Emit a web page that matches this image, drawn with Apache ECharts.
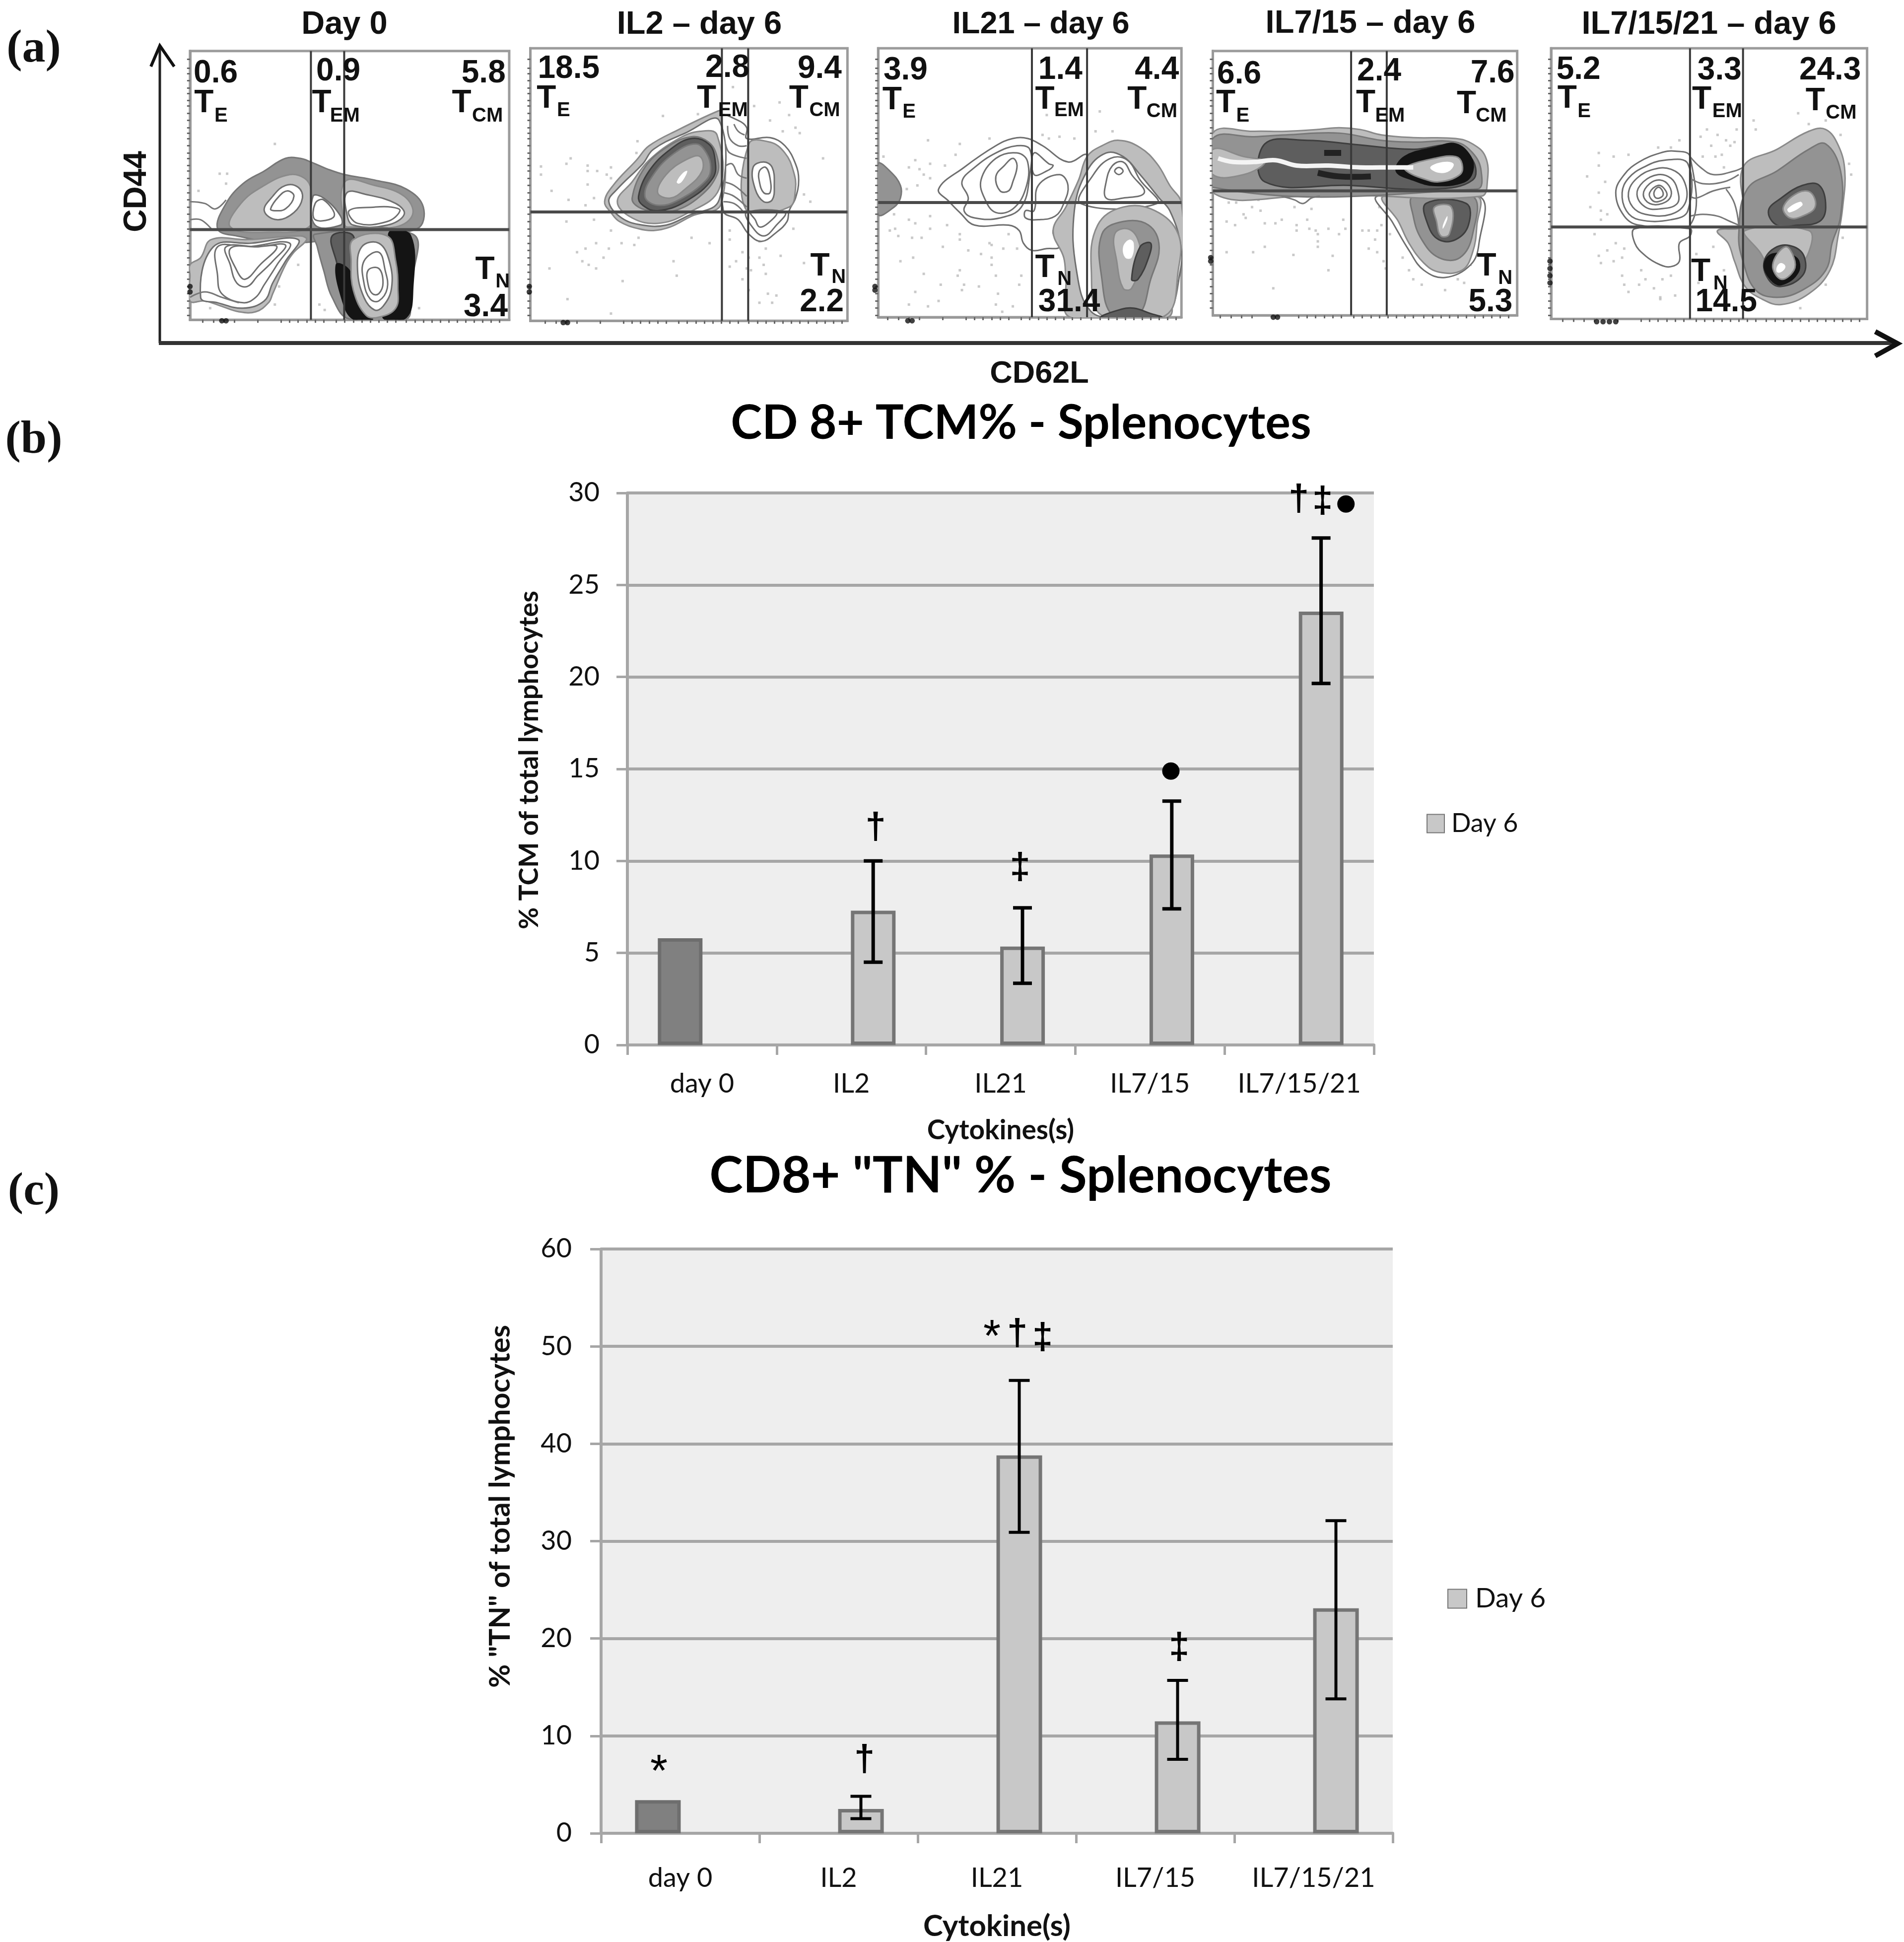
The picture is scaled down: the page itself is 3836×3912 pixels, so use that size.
<!DOCTYPE html>
<html>
<head>
<meta charset="utf-8">
<style>html,body{margin:0;padding:0;background:#fff}#c{width:3836px;height:3912px}</style>
<script src="https://cdn.jsdelivr.net/npm/echarts@6/dist/echarts.min.js"></script>
</head>
<body>
<div id="c"></div>
<script>
// ---- panels (b) and (c): values ----
const categoriesB = ['day 0','IL2','IL21','IL7/15','IL7/15/21'];
const categoriesC = ['day 0','IL2','IL21','IL7/15','IL7/15/21'];
const day0B = [5.8,null,null,null,null];
const day6B = [null,7.3,5.35,10.35,23.55];
const errLowB = [null,4.5,3.35,7.4,19.65];
const errHighB = [null,10.0,7.45,13.25,27.55];
const day0C = [3.4,null,null,null,null];
const day6C = [null,2.5,38.8,11.5,23.1];
const errLowC = [null,1.5,30.9,7.6,13.8];
const errHighC = [null,3.8,46.5,15.7,32.1];
const marksB = [[1,11.77,'†',49],[2,9.6,'‡',39],[3,14.9,'●',42],[4,29.6,'†',-1],[4,29.5,'‡',47],[4,29.4,'●',94]];
const marksC = [[0,6.83,'*',-43],[1,7.46,'†',52],[2,51.5,'*',-10],[2,51.2,'†',41],[2,50.8,'‡',92],[3,19.0,'‡',48]];

// ---- panel (a): gates, labels, contours and events ----
const plotTitles = ['Day 0','IL2 – day 6','IL21 – day 6','IL7/15 – day 6','IL7/15/21 – day 6'];
const gatesV = [[60,75.7],[92.3,104.7],[77,103],[70.7,87.5],[69,94]];
const gatesH = [102.5,92.7,87.5,81,101];
// text, kind (n number, t T, s subscript), x, y
const labels0 = [['0.6','n',4.7,16],['T','t',5,32.5],['E','s',14.5,39.5],['0.9','n',62.5,15],['T','t',60.5,32.5],['EM','s',69,39.5],['5.8','n',131,16],['T','t',126.5,32.5],['CM','s',136,39.5],['T','t',137.5,125],['N','s',147,131.5],['3.4','n',132,145.5]];
const labels1 = [['18.5','n',5.5,13.5],['T','t',5,30],['E','s',14.5,36.5],['2.8','n',84.5,13],['T','t',80.5,30],['EM','s',90.5,36.5],['9.4','n',128,13.5],['T','t',124,30],['CM','s',133.5,36.5],['T','t',134,123],['N','s',144,129],['2.2','n',129,143]];
const labels2 = [['3.9','n',7,14.5],['T','t',6.5,31],['E','s',16,37.5],['1.4','n',80,14],['T','t',78.5,30.5],['EM','s',87.5,36.5],['4.4','n',125.5,14],['T','t',122,30.5],['CM','s',131,37],['T','t',78.5,124],['N','s',89,130],['31.4','n',80,143]];
const labels3 = [['6.6','n',7.5,16.5],['T','t',7,32.5],['E','s',16.5,39.5],['2.4','n',73.5,15],['T','t',73,32.5],['EM','s',82,39.5],['7.6','n',127,16],['T','t',120.5,33],['CM','s',129.5,39.5],['T','t',130,123],['N','s',140,129.5],['5.3','n',126,143]];
const labels4 = [['5.2','n',6,14],['T','t',6.5,30],['E','s',16,37],['3.3','n',72.5,14.5],['T','t',70,30.5],['EM','s',79.5,37],['24.3','n',120.5,14.5],['T','t',123.5,31.5],['CM','s',133,38],['T','t',69.5,126],['N','s',80,132.5],['14.5','n',71.5,143]];

// each contour: density level, then x,y pairs. Negative level = open contour line.
const contours0 = [
 [2,16,102,20,88,28,77,38,70,48,63,55,63,60,65,68,69,76,72,90,75,105,80,113,90,110,102,80,106,50,110,25,106],
 [1,22,101,27,88,38,78,50,72,57,74,60,80,60,100,40,104],
 [0,38,92,42,84,48,78,54,79,56,85,52,93,44,97],[0,41,91,45,84,49,81,52,84,48,91,43,92],
 [0,61,84,66,85,74,95,74,100,62,100],[0,62,88,66,86,71,95,62,97],
 [1,76,76,90,78,104,84,108,94,100,101,80,101,76,100],[0,77,82,86,83,100,88,104,94,96,100,80,100,77,94],[0,78,92,90,90,98,90,102,92,96,98,82,99],
 [-1,3,87,10,88,15,91,20,86],[-1,3,97,8,97,13,102],
 [1,3,122,8,118,13,108,30,108,55,106,58,108,52,115,48,122,42,138,40,143,34,148,26,148,18,145,10,142,3,142,3,128],
 [0,14,112,32,110,54,108,48,120,42,132,38,142,28,146,16,143,8,140],[0,16,112,30,112,50,110,44,122,38,133,34,140,28,143,18,138,16,128],[0,20,112,35,112,48,111,42,120,35,128,30,134,25,132,22,122],[0,22,113,35,112,44,112,36,122,29,130,25,125],
 [-1,3,140,10,137,18,140,26,143],
 [2,62,105,108,105,108,130,107,140,105,152,78,152,70,140,66,125,63,112],
 [3,70,106,80,106,79,125,82,145,76,135,72,120],
 [4,72,122,78,125,81,138,89,152,80,152,75,142],
 [4,97,104,107,106,108,135,105,151,94,151,100,135,100,118],
 [1,80,108,96,106,100,120,101,135,100,146,92,151,86,150,80,136,79,120],
 [0,84,112,92,110,97,120,98,135,94,145,90,147,85,140,82,125],[0,85,120,92,115,95,125,96,135,92,142,88,141,85,132],[0,87,125,92,124,94,132,92,138,89,138,87,133]
];
const contours1 = [
 [0,92,40,100,42,104,46,104,52,115,51.5,122,56,127,66,128.5,75,127,85,124,92,123,98,118,104,111,109,105,105,100,97,93,92],
 [1,105,55,115,54,122,60,126,70,127,80,124,90,104,92],
 [0,107,68,112,65,116,68,117,78,116,86,112,87,108,80],[0,110,70,113,68,115,74,115,82,112,82,110,76],
 [0,104,93,122,93,118,100,112,106,106,100],[0,106,93,118,93,114,99,110,101,108,97],
 [-1,95,45,96,52,100,56,104,56],[-1,98,44,100,48,103,50],[-1,94,55,96,60,104,63],[-1,93,68,97,66,100,72,104,74],[-1,93,76,98,78,104,84],[-1,93,82,98,84,104,90],[-1,93,87,98,88,102,92],
 [1,37,87,41,78,52,64,58,56,72,47,90,37,92,37,92,88,78,95,68,101,60,103,53,102,44,98,40,93],
 [0,39,87,43,80,55,66,60,58,75,49,91,42,91,86,76,95,66,100,55,100,45,96],
 [1,43,87,50,76,58,64,72,52,82,48,90,50,91,80,75,94,62,99,50,96],
 [2,50,85,56,68,66,57,78,51,86,54,90,62,90,72,82,84,70,92,60,92,53,90],
 [3,53,84,58,70,68,58,78,52,86,55,89,63,88,74,75,87,62,92,55,89],
 [2,56,84,60,72,70,60,80,55,85,60,87,68,85,75,72,86,62,89],
 [1,62,82,66,72,75,64,82,62,83,70,75,80,68,85],
 [5,71,76,74,71,76,70,74,75,72,77]
];
const contours2 = [
 [2,4.5,66,10,70,15,78,15,85,12,90,4.5,94],
 [0,33,80,45,68,60,56,68,52,75,52,82,56,94,65,103,61,103,75,95,90,87,103,90,112,84,113,77,114,73,110,71,103,66,100,50,100,43,93,38,87],
 [0,44,76,50,68,60,60,70,56,76,58,76,72,72,90,62,96,50,96,45,92,47,85],
 [0,53,75,60,63,70,60,75,65,74,80,68,91,60,93,55,86],
 [0,60,73,64,67,68,63,70,67,68,76,66,81,62,81],
 [0,78,60,85,66,87,67,84,70,78,72],[0,80,78,90,72,94,78,92,88,88,95,80,97,74,96,74,92,78,92],
 [1,87,103,93,90,99,75,103,62,110,56,118,53,128,57,136,66,142,78,147.5,88,147.5,125,143,135,141,151,95,151,93,130,92,118],
 [0,97,92,103,70,112,60,120,62,128,72,137,85,142,92,147,110,147,125,140,150,120,151,105,148,98,125],
 [0,100,88,106,72,114,63,122,64,128,75,136,88],
 [0,112,76,115,67,120,65,124,72,130,82,120,85,112,85],[0,116,70,118,68,120,70,118,72],
 [1,108,100,120,90,135,92,146,105,146,125,140,150,110,150,105,125],
 [2,110,105,120,98,132,100,137,112,133,130,127,150,115,150,110,130],
 [1,116,105,122,102,127,108,128,120,124,135,120,135,117,120],
 [3,128,112,133,110,132,118,127,130,124,130],
 [5,120,112,123,108,125,110,124,118,121,118],
 [3,110,151,118,147,125,146,133,149,138,151]
];
const contours3 = [
 [0,83,84,131,84,131,110,127,122,115,129,105,125,98,114,90,98],
 [1,86,84,130,84,130,100,128,115,123,125,112,126,105,121,98,110,93,98],
 [2,100,84,128,84,128,105,122,118,112,118,104,108,100,95],
 [3,106,88,125,88,126,100,120,108,112,108,107,100],
 [1,110,90,118,90,117,105,113,106,111,98],
 [5,114,100,116,95,116,97,114,102],
 [1,5.5,49,25,48,40,48,55,47,65,46,75,47,85,50,100,51.5,120,52,128,55,134,62,135,75,132,84,70,83.5,50,84,5.5,82],
 [2,5.5,52,25,51,40,50,65,49,85,53,100,54,120,54,128,60,132,70,130,80,5.5,79],
 [3,30,55,50,53,70,55,100,58,118,56,128,64,128,75,110,80,70,78,30,76],
 [1,5.5,58,20,62,30,65,20,72,5.5,72],
 [4,96,62,110,57,120,55,127,62,128,70,124,76,110,78,100,75,92,70],
 [1,96,68,110,63,120,62,123,66,122,72,112,76,104,74,98,71],
 [5,108,68,114,65,119,66,117,70,112,71],
 [-3,55,71,65,73,80,73],[-3,58,60,66,60],
 [-2,8,63,15,65,25,65,35,64,45,67,60,67,75,68,90,68,100,68],
 [-1,38,84,44,86,48,88,52,85,56,84]
];
const contours4 = [
 [0,34,82,38,72,45,65,55,60,62,59,69,62,69,100,45,100,38,95],[0,37,82,40,74,47,68,57,64,68,66,68,92,60,97,45,97,39,92],
 [0,40,82,44,74,52,69,60,69,66,75,67,87,60,94,48,94,42,90],[0,44,83,47,76,54,72,60,74,63,80,63,88,55,91,48,90],
 [0,47,83,50,77,55,75,59,78,60,84,56,88,50,88],[0,50,82,54,78,57,80,58,84,54,87,51,86],[0,52,82,54,79,56,81,56,84,53,85],
 [-1,69,62,74,68,80,72,90,70,94,68],[-1,69,74,75,77,85,76,92,72],[-1,69,84,72,85,80,81,88,79],[-1,69,95,75,94,82,95,88,98,92,100],[-1,86,80,90,88,92,100],
 [0,43,102,43,110,48,117,55,122,60,123,64,120,64,110,69,106,69,102],
 [1,94,68,110,58,125,48,133,47,139,56,142,70,141,90,139,105,135,125,125,138,112,144,103,141,95,134,90,120,87,110,82,103,94,100],
 [2,96,80,110,70,125,58,133,55,140,70,140,95,136,110,133,125,122,136,110,140,100,136,94,120,92,105],
 [3,106,92,112,85,122,78,130,78,133,90,130,98,120,100,110,100],
 [1,113,90,120,82,126,82,128,90,122,95,116,96],
 [5,115,91,121,87,122,89,116,93],
 [1,95,103,125,103,125,115,118,125,108,125,102,115],
 [3,104,120,110,112,118,112,123,118,122,128,112,134,106,130],
 [4,104,122,108,116,119,118,120,126,112,133,107,130],
 [1,108,122,114,112,118,118,118,125,112,130],
 [5,110,123,112,121,114,123,112,126,110,126]
];
const events0 = [[43,55],[17,71.5],[20.5,71.5],[20,77],[7,81],[54,122],[45,134],[43,144],[12.5,146],[64,144],[66.5,147],[111,146]];
const events1 = [[64.5,39.5],[97.5,23.5],[81,38.5],[52.5,53.5],[52,60],[21,63],[19,66],[7,67.5],[7,72],[29,67],[29,70],[33.5,70],[40,68],[38,72],[40,74],[29,77.5],[12,81],[20,86],[32,85],[28,89],[32,97],[19,98],[40,103],[53,107],[45,110],[51,111],[33,110],[39,113],[28,113],[24,115],[26.5,120],[29.5,122],[36.5,118],[33,124],[11,124],[78,107],[86.5,110],[69.5,120],[71,128],[45.5,131],[19.5,141],[40,149],[119.5,32],[107.5,34],[124,39],[115,42],[121,48],[127,46],[129,49],[140,63],[131,83],[134,87],[96,103],[96,108],[110,109],[113,113],[102,115],[105,118],[110,118],[99,120],[104,124],[112,122],[120,117],[131,121],[96,123],[106,125],[113,127],[102,130],[105,136],[114,138],[118,139],[110,143],[116,143],[126,102]];
const events2 = [[28,53],[43,55],[57,52],[41,61],[36,67],[22,64],[29,66],[19,68],[24,69],[26,72],[29,74],[23,78],[7,62],[18,80],[12,94],[19,97],[29,95],[22,99],[37,100],[12.5,102],[29,102],[43,105],[10,103],[14,106],[20.5,107],[25,107],[43,108],[35,112],[47,114],[57,110],[66,105],[58,111],[63.5,113],[53,116],[58,118],[70,113],[21,118],[15,120],[43,125],[58,122],[60,128],[26,127],[34,133],[42,128],[45,133],[52,134],[72,128],[71,133],[22,137],[44,136],[61,138],[33,142],[19,144],[28,145],[60,144],[68,145],[63,148],[82,50],[85,52],[90,51],[97,52],[107,48],[115,48],[109,37],[84,39]];
const events3 = [[13,87.5],[16.5,87.5],[27,86],[24,90],[28,92],[20,94],[21,96],[12,98],[16,100],[30,99],[35,99],[38,97],[44,90],[50,97],[52,91],[45,100],[45,103],[51,102],[54,103],[60,102],[55,105],[55,109],[55,112],[65,105],[67,97],[68,102],[76,103],[79,103],[84,90],[85,100],[83,103],[82,108],[89,105],[79,113],[83,115],[86,120],[87,124],[30,112],[12,115],[24.5,115],[43.5,116.5],[62,117],[60,125],[34,135],[95,118],[98,125],[100,130],[104,133],[113,128],[115,136],[121,130],[124,132],[127,122]];
const events4 = [[26,60],[33,62],[40,61],[26,67],[20.5,73],[29,76],[26,82],[22,90],[27,92],[30,94],[27,97],[60,57],[54,57],[64,53],[77,47],[74,51],[82,50],[86,53],[79,56],[75,62],[81,62],[84,61],[88,56],[91,47],[99,42],[100,47],[90,54],[85,68],[120,38],[125,44],[133,42],[140,50],[144,66],[145,72],[141,107],[24,105],[34,110],[30,114],[38,113],[26,117],[33,120],[37,118],[27,121],[46,125],[37,128],[48,130],[56,130],[60,128],[38,133],[45,133],[52,135],[40,137],[55,140],[62,139],[55,141],[72,116],[80,112],[85,125],[73,132],[121,146],[133,133]];
const blots0 = [[18,153],[20,153],[3,134],[3,137]];
const blots1 = [[17.5,154],[19.5,154],[1.5,134],[1.5,137]];
const blots2 = [[18.5,153],[20.5,153],[3,134],[3,136]];
const blots3 = [[34,151],[36,151],[4.5,118],[4.5,120]];
const blots4 = [[25,153.5],[28,153.5],[31,153.5],[34,153.5],[3,120],[3,124],[3,128],[3,132]];
const plotTicksLeft = [8,13,16,20,24,27,31,34,38,42,46,49,52,56,60,63,67,70,74,78,82,86,90,94,98,102,106,110,114,118,122,126,130,134,138,142,146,150];
const plotTicksBottom = [9,14,19,24,35,46,50,54,58,62,66,72,76,80,84,88,92,96,100,105,109,113,117,121,125,129,133,137,141,145,149];

// ---- layout and styles ----
const allContours = [contours0,contours1,contours2,contours3,contours4];
const allLabels = [labels0,labels1,labels2,labels3,labels4];
const allEvents = [events0,events1,events2,events3,events4];
const allBlots = [blots0,blots1,blots2,blots3,blots4];
const crops = [370,1060,1750,2420,3110];          // left px of each panel's reading frame
const frames = [[3,153.5,3.5,152.5],[2,151.5,2,153],[4.5,147.5,2,151],[5.5,149,3.5,150],[3.5,152.5,2,152]];
const unitX = 670/156.8, unitY = 570/156.8, cropTop = 90;
const titleCx = [694,1409,2097,2761,3443];
const levelFill = {0:'#ffffff',1:'#bdbdbd',2:'#939393',3:'#5e5e5e',4:'#141414',5:'#ffffff'};
const levelStroke = {0:'#6f6f6f',1:'#8a8a8a',2:'#777777',3:'#3e3e3e',4:'#141414'};
const SANS = '"Liberation Sans", Arial, sans-serif';
const CAL = 'Lato, "Open Sans", sans-serif';
const GRID_C = '#a6a6a6';

const grids=[], xAxes=[], yAxes=[], series=[];
frames.forEach((f,i)=>{
  grids.push({left:crops[i]+f[0]*unitX, width:(f[1]-f[0])*unitX, top:cropTop+f[2]*unitY, height:(f[3]-f[2])*unitY,
    show:true, borderColor:'#9c9c9c', borderWidth:5, backgroundColor:'#fff'});
  xAxes.push({gridIndex:i,type:'value',min:f[0],max:f[1],splitLine:{show:false},axisLabel:{show:false},
    axisLine:{show:true,onZero:false,lineStyle:{color:'#999',width:5}},
    axisTick:{show:true,customValues:plotTicksBottom.filter(v=>v>f[0]&&v<f[1]),length:6,lineStyle:{color:'#666',width:3}}});
  yAxes.push({gridIndex:i,type:'value',inverse:true,min:f[2],max:f[3],splitLine:{show:false},axisLabel:{show:false},
    axisLine:{show:true,onZero:false,lineStyle:{color:'#999',width:5}},
    axisTick:{show:true,customValues:plotTicksLeft.filter(v=>v>f[2]&&v<f[3]),length:6,lineStyle:{color:'#666',width:3}}});
  // events
  series.push({type:'scatter',xAxisIndex:i,yAxisIndex:i,data:allEvents[i],symbolSize:5,symbol:'rect',silent:true,
    itemStyle:{color:'#bcbcbc'},z:2,clip:false});
  // contours
  const rings = allContours[i];
  series.push({type:'custom',xAxisIndex:i,yAxisIndex:i,silent:true,z:3,clip:true,data:rings.map((_,k)=>[k,k]),
    renderItem:(p,api)=>{
      const r = rings[p.dataIndex], lv=r[0], pts=[];
      for(let k=1;k<r.length;k+=2) pts.push(api.coord([r[k],r[k+1]]));
      if(lv<0){
        const st = lv===-1?{stroke:'#777',lineWidth:3,fill:null}:lv===-2?{stroke:'#f4f4f4',lineWidth:9,fill:null}:{stroke:'#222',lineWidth:12,fill:null};
        return {type:'polyline',shape:{points:pts,smooth:0.4},style:st};
      }
      return {type:'polygon',shape:{points:pts,smooth:0.4},
        style:{fill:levelFill[lv],stroke:lv===5?null:levelStroke[lv],lineWidth:3}};
    }});
  // heavy spots on the plot's axes
  series.push({type:'scatter',xAxisIndex:i,yAxisIndex:i,data:allBlots[i],symbolSize:11,silent:true,
    itemStyle:{color:'#111'},z:4,clip:false});
  // gates
  const gates = gatesV[i].map(v=>[v,f[2],v,f[3]]).concat([[f[0],gatesH[i],f[1],gatesH[i]]]);
  series.push({type:'custom',xAxisIndex:i,yAxisIndex:i,silent:true,z:4,clip:false,data:gates.map((_,k)=>[k,k]),
    renderItem:(p,api)=>{
      const g=gates[p.dataIndex], a=api.coord([g[0],g[1]]), b=api.coord([g[2],g[3]]);
      const h=g[1]===g[3];
      return {type:'line',shape:{x1:a[0],y1:a[1],x2:b[0],y2:b[1]},style:{stroke:h?'#4a4a4a':'#3a3a3a',lineWidth:h?6:4}};
    }});
  // text
  const labs = allLabels[i];
  series.push({type:'custom',xAxisIndex:i,yAxisIndex:i,silent:true,z:5,clip:false,data:labs.map((_,k)=>[k,k]),
    renderItem:(p,api)=>{
      const l=labs[p.dataIndex], a=api.coord([l[2],l[3]]);
      const size={n:64,t:64,s:40}[l[1]];
      return {type:'text',x:a[0],y:a[1],style:{text:l[0],fontSize:size,fontWeight:'bold',fontFamily:SANS,fill:'#111',align:'left',verticalAlign:'middle'}};
    }});
});

function barPanel(g,cfg){
  grids.push({left:cfg.left,width:cfg.width,top:cfg.top,height:cfg.height,show:true,backgroundColor:'#eeeeee',borderWidth:0});
  xAxes.push({gridIndex:g,type:'category',data:cfg.cats,name:cfg.xName,nameLocation:'middle',nameGap:cfg.xGap,
    nameTextStyle:{fontFamily:CAL,fontWeight:'bold',fontSize:cfg.xSize,color:'#111'},
    axisLine:{lineStyle:{color:GRID_C,width:6}},axisTick:{show:true,interval:0,length:20,lineStyle:{color:GRID_C,width:5}},
    axisLabel:{interval:0,fontFamily:CAL,fontSize:54,color:'#111',margin:cfg.xMargin},splitLine:{show:false}});
  yAxes.push({gridIndex:g,type:'value',min:0,max:cfg.max,interval:cfg.step,name:cfg.yName,nameLocation:'middle',nameRotate:90,nameGap:cfg.yGap,
    nameTextStyle:{fontFamily:CAL,fontWeight:'bold',fontSize:cfg.ySize,color:'#111',padding:[0,0,0,cfg.yShift]},
    axisLine:{show:true,lineStyle:{color:GRID_C,width:6}},axisTick:{show:true,length:22,lineStyle:{color:GRID_C,width:5}},
    axisLabel:{fontFamily:CAL,fontSize:54,color:'#111',margin:cfg.yMargin},splitLine:{show:true,lineStyle:{color:GRID_C,width:6}}});
  series.push({type:'bar',name:'Day 0',xAxisIndex:g,yAxisIndex:g,data:cfg.day0,barWidth:cfg.barW,barGap:cfg.gap,
    itemStyle:{color:'#808080',borderColor:'#6e6e6e',borderWidth:7},silent:true,z:3,animation:false});
  series.push({type:'bar',name:'Day 6',xAxisIndex:g,yAxisIndex:g,data:cfg.day6,barWidth:cfg.barW,barGap:cfg.gap,
    itemStyle:{color:'#c8c8c8',borderColor:'#757575',borderWidth:7},silent:true,z:3,animation:false});
  const errs = cfg.low.map((v,i)=>[i,v,cfg.high[i]]).filter(e=>e[1]!==null);
  series.push({type:'custom',xAxisIndex:g,yAxisIndex:g,silent:true,z:6,clip:false,data:errs,
    encode:{x:0,y:[1,2]},
    renderItem:(p,api)=>{
      const lo=api.coord([api.value(0),api.value(1)]), hi=api.coord([api.value(0),api.value(2)]);
      const x=lo[0]+cfg.off, st={stroke:'#000',lineWidth:cfg.errW};
      return {type:'group',children:[
        {type:'line',shape:{x1:x,y1:lo[1],x2:x,y2:hi[1]},style:st},
        {type:'line',shape:{x1:x-cfg.cap,y1:lo[1],x2:x+cfg.cap,y2:lo[1]},style:st},
        {type:'line',shape:{x1:x-cfg.cap,y1:hi[1],x2:x+cfg.cap,y2:hi[1]},style:st}]};
    }});
  const marks=cfg.marks;
  series.push({type:'custom',xAxisIndex:g,yAxisIndex:g,silent:true,z:7,clip:false,data:marks.map(m=>[m[0],m[1]]),
    renderItem:(p,api)=>{
      const m=marks[p.dataIndex], a=api.coord([m[0],m[1]]);
      const size=m[2]==='●'?46:(m[2]==='*'?90:74);
      const fam=m[2]==='●'?'"DejaVu Sans"':SANS;
      const dy=m[2]==='*'?14:0;
      return {type:'text',x:a[0]+m[3],y:a[1]+dy,style:{text:m[2],fontSize:size,fontWeight:m[2]==='*'||m[2]==='●'?'normal':'bold',fontFamily:fam,fill:'#000',align:'center',verticalAlign:'middle'}};
    }});
}
barPanel(5,{left:1264,width:1504,top:993,height:1112,cats:categoriesB,max:30,step:5,day0:day0B,day6:day6B,low:errLowB,high:errHighB,marks:marksB,
  xName:'Cytokines(s)',xGap:145,xSize:55,xMargin:52,yName:'% TCM of total lymphocytes',yGap:170,ySize:54,yShift:36,yMargin:56,barW:90,gap:'-2%',off:44,cap:19,errW:7});
barPanel(6,{left:1211,width:1595,top:2516,height:1177,cats:categoriesC,max:60,step:10,day0:day0C,day6:day6C,low:errLowC,high:errHighC,marks:marksC,
  xName:'Cytokine(s)',xGap:158,xSize:60,xMargin:64,yName:'% "TN" of total lymphocytes',yGap:174,ySize:58,yShift:140,yMargin:59,barW:92,gap:'-2%',off:45,cap:21,errW:6});

const textG=(x,y,text,size,fam,weight,rot)=>({type:'text',x,y,rotation:rot||0,silent:true,style:{text,fontSize:size,fontFamily:fam,fontWeight:weight||'normal',fill:'#111',align:'center',verticalAlign:'middle'}});
const lineG=(pts,w,c)=>({type:'polyline',silent:true,shape:{points:pts},style:{stroke:c,lineWidth:w,fill:null,lineJoin:'miter'}});
const SERIF='"Liberation Serif", serif';
const graphics=[
  textG(68,100,'(a)',94,SERIF,'bold'),textG(68,888,'(b)',94,SERIF,'bold'),textG(68,2402,'(c)',94,SERIF,'bold'),
  textG(276,386,'CD44',64,SANS,'bold',Math.PI/2),textG(2094,754,'CD62L',63,SANS,'bold'),
  lineG([[322,691],[322,95]],5,'#222'),lineG([[304,134],[322,92],[351,134]],6,'#111'),
  lineG([[320,691],[3820,691]],8,'#333'),lineG([[3778,668],[3823,692],[3778,717]],10,'#111')
];
plotTitles.forEach((t,i)=>graphics.push(textG(titleCx[i],[50,50,50,48,50][i],t,i===2?63:65,SANS,'bold')));

const chart=echarts.init(document.getElementById('c'),null,{renderer:'canvas'});
chart.setOption({
  animation:false,backgroundColor:'#fff',
  title:[
    {text:'CD 8+ TCM% - Splenocytes',left:2052,top:848,textAlign:'center',textVerticalAlign:'middle',textStyle:{fontFamily:CAL,fontWeight:'bold',fontSize:95,color:'#000'}},
    {text:'CD8+ "TN" % - Splenocytes',left:2051,top:2364,textAlign:'center',textVerticalAlign:'middle',textStyle:{fontFamily:CAL,fontWeight:'bold',fontSize:102,color:'#000'}}
  ],
  legend:[
    {data:['Day 6'],left:2874,top:1633,padding:0,icon:'rect',itemWidth:35,itemHeight:37,itemGap:0,selectedMode:false,textStyle:{fontFamily:CAL,fontSize:52,color:'#111',padding:[0,0,0,9]}},
    {data:['Day 6'],left:2916,top:3193,padding:0,icon:'rect',itemWidth:38,itemHeight:38,itemGap:0,selectedMode:false,textStyle:{fontFamily:CAL,fontSize:55,color:'#111',padding:[0,0,0,12]}}
  ],
  grid:grids,xAxis:xAxes,yAxis:yAxes,series,graphic:graphics
});
</script>
</body>
</html>
